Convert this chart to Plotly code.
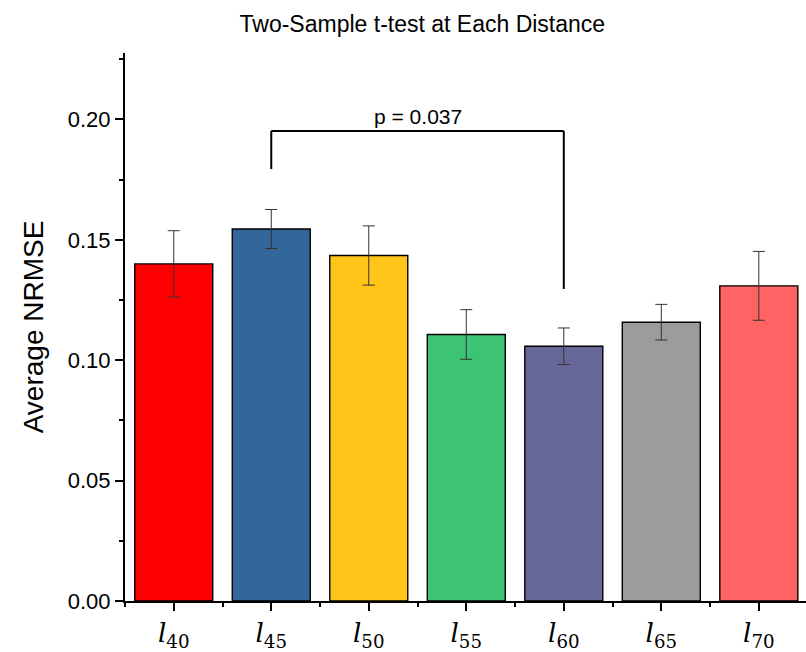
import plotly.graph_objects as go

categories = ["40", "45", "50", "55", "60", "65", "70"]
means = [0.1400, 0.1545, 0.1435, 0.1107, 0.1058, 0.1158, 0.1309]
errors = [0.0138, 0.0081, 0.0123, 0.0103, 0.0076, 0.0074, 0.0143]
colors = ["#FF0000", "#336699", "#FFC619", "#3CC373", "#666699", "#9C9C9C", "#FF6363"]
y_ticks = [0.00, 0.05, 0.10, 0.15, 0.20]
y_tick_text = ["0.00", "0.05", "0.10", "0.15", "0.20"]

# significance bracket between groups 45 and 60
bracket_groups = [1, 4]
bracket_top = 0.1952
bracket_left_bottom = 0.1794
bracket_right_bottom = 0.1296
p_text = "p = 0.037"

xpos = list(range(len(categories)))
tick_text = [f"<i>l</i><sub>{c}</sub>" for c in categories]

fig = go.Figure()
fig.add_trace(go.Bar(
    x=xpos, y=means, width=0.8,
    marker=dict(color=colors, line=dict(color="black", width=1.4)),
    error_y=dict(type="data", array=errors, visible=True, color="#333333",
                 thickness=1, width=6),
    showlegend=False,
))

line_style = dict(color="black", width=2)
xl, xr = bracket_groups
fig.add_shape(type="line", x0=xl, x1=xl, y0=bracket_left_bottom, y1=bracket_top,
              xref="x", yref="y", line=line_style)
fig.add_shape(type="line", x0=xl, x1=xr, y0=bracket_top, y1=bracket_top,
              xref="x", yref="y", line=line_style)
fig.add_shape(type="line", x0=xr, x1=xr, y0=bracket_right_bottom, y1=bracket_top,
              xref="x", yref="y", line=line_style)
fig.add_annotation(x=(xl + xr) / 2, y=bracket_top, text=p_text, showarrow=False,
                   xref="x", yref="y", yanchor="bottom", yshift=1,
                   font=dict(family="Liberation Sans, Arial", size=21, color="black"))

fig.update_layout(
    width=806, height=652,
    margin=dict(l=125, r=0, t=53, b=42),
    plot_bgcolor="white", paper_bgcolor="white",
    title=dict(text="Two-Sample t-test at Each Distance", x=0.524, xanchor="center",
               y=0.964, yanchor="middle",
               font=dict(family="Liberation Sans, Arial", size=23, color="black")),
    bargap=0.2,
)
fig.update_xaxes(
    range=[-0.5, 6.484], tickvals=xpos, ticktext=tick_text,
    showline=True, linecolor="black", linewidth=2,
    ticks="outside", ticklen=8, tickwidth=2, tickcolor="black",
    minor=dict(tickmode="linear", tick0=0.5, dtick=1, ticks="outside",
               ticklen=4, tickwidth=2, tickcolor="black"),
    showgrid=False, zeroline=False,
    tickfont=dict(family="DejaVu Serif, Liberation Serif", size=26, color="black"),
)
fig.update_yaxes(
    range=[0, 0.2276], tickvals=y_ticks, ticktext=y_tick_text,
    showline=True, linecolor="black", linewidth=2,
    ticks="outside", ticklen=8, tickwidth=2, tickcolor="black",
    minor=dict(tickmode="linear", tick0=0, dtick=0.025, ticks="outside",
               ticklen=4, tickwidth=2, tickcolor="black"),
    showgrid=False, zeroline=False,
    title=dict(text="Average NRMSE", standoff=16,
               font=dict(family="Liberation Sans, Arial", size=28, color="black")),
    tickfont=dict(family="Liberation Sans, Arial", size=22, color="black"),
)

fig.write_html("out.html", config={"displayModeBar": False},
               post_script="document.body.style.margin='0px';")
